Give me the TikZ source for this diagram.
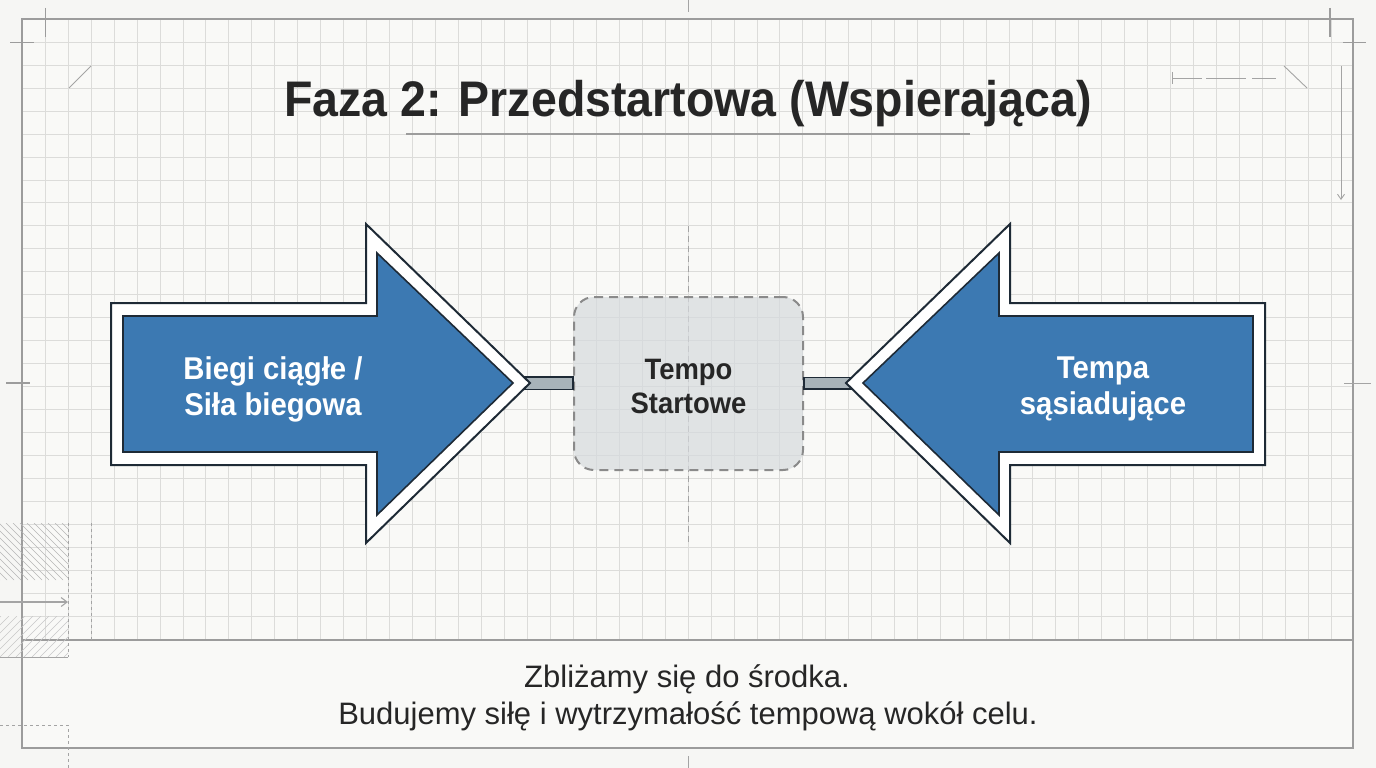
\documentclass[tikz,border=0pt]{standalone}
\usepackage{fontspec}
\setmainfont{Liberation Sans}
\newfontfamily\bfs[FakeStretch=0.93]{Liberation Sans Bold}
\usetikzlibrary{arrows.meta}
\definecolor{bgc}{HTML}{F6F6F4}
\definecolor{paper}{HTML}{F9F9F7}
\definecolor{gridc}{HTML}{DCDCDA}
\definecolor{framec}{HTML}{9C9C9C}
\definecolor{txt}{HTML}{262626}
\definecolor{blueA}{HTML}{3C79B2}
\definecolor{darkline}{HTML}{1E2A36}
\definecolor{barc}{HTML}{A8B3B9}
\definecolor{boxfill}{HTML}{D6DADD}
\definecolor{boxdash}{HTML}{8A8A8A}
\definecolor{decoc}{HTML}{A4A4A4}
\tikzset{
  gridline/.style={draw=gridc, line width=1pt},
  framec line/.style={draw=framec, line width=1.4pt},
  deco/.style={draw=decoc, line width=0.9pt},
  hatch/.style={draw=decoc!80, line width=0.6pt},
  arrowout/.style={fill=white, draw=darkline, line width=2pt, line join=miter},
  arrowin/.style={fill=blueA, draw=darkline, line width=1.6pt, line join=miter},
  bar/.style={fill=barc, draw=darkline, line width=1.6pt},
  startbox/.style={draw=boxdash, dash pattern=on 9pt off 6pt, line width=2pt, fill=boxfill, fill opacity=0.7, text opacity=1, rounded corners=20pt, minimum width=229pt, minimum height=173pt, align=center, text=txt, font=\bfs\fontsize{29.5}{34}\selectfont},
  lbl/.style={align=center, text=white, font=\bfs\fontsize{31.5}{36}\selectfont},
  titlefont/.style={text=txt, font=\bfs\fontsize{50}{60}\selectfont, inner sep=0pt},
  subfont/.style={text=txt, font=\fontsize{31}{37}\selectfont, inner sep=0pt},
}
\begin{document}
\begin{tikzpicture}[x=1pt,y=-1pt]
\useasboundingbox (0,0) rectangle (1376,768);
\fill[bgc] (0,0) rectangle (1376,768);
\fill[paper] (22,19) rectangle (1353,748);
% grid
\foreach \i in {0,...,57} \draw[gridline] ({22.3+22.96*\i},19.3) -- ({22.3+22.96*\i},639.5);
\foreach \j in {0,...,27} \draw[gridline] (22.3,{19.3+22.96*\j}) -- (1353,{19.3+22.96*\j});
% frame
\draw[framec line] (22,19) rectangle (1353,748);
\draw[framec line] (22,640) -- (1353,640);
% crop marks
\draw[deco, line width=1.1pt, draw=framec] (45.7,8) -- (45.7,37);
\draw[deco, line width=1.1pt, draw=framec] (10,42.7) -- (34,42.7);
\draw[deco, line width=1.1pt, draw=framec] (1330,8) -- (1330,37);
\draw[deco, line width=1.1pt, draw=framec] (1343,42.7) -- (1366,42.7);
\draw[deco, line width=1.1pt, draw=framec] (6,383) -- (30,383);
\draw[deco] (1344,383) -- (1371,383);
\draw[deco] (688,0) -- (688,12);
\draw[deco] (688,756) -- (688,768);
% small decorations top
\draw[deco] (69,88) -- (91,66);
\draw[deco] (1284,66) -- (1307,88);
\draw[deco, dash pattern=on 30pt off 4pt on 40pt off 6pt] (1172,78) -- (1276,78);
\draw[deco] (1172,72) -- (1172,84);
\draw[deco, -{Straight Barb[length=5pt,width=7pt]}] (1341,66) -- (1341,200);
% bottom-left decorations
\begin{scope}
  \clip (0,523) rectangle (68,580);
  \foreach \k in {-64,-57,...,80} \draw[hatch] (\k,523) -- ({\k+57},580);
\end{scope}
\begin{scope}
  \clip (0,616) rectangle (68,657);
  \foreach \k in {-48,-40,...,80} \draw[hatch, draw=decoc!60] (\k,657) -- ({\k+41},616);
\end{scope}
\draw[deco, dashed] (68,523) -- (68,657);
\draw[deco, dashed] (91,523) -- (91,640);
\draw[deco] (0,657) -- (68,657);
\draw[deco, line width=1.1pt, -{Straight Barb[length=6pt,width=9pt]}] (0,602) -- (68,602);
\draw[deco, dashed] (0,725) -- (68,725) -- (68,768);
% center dashed line
\draw[draw=decoc, line width=1pt, dash pattern=on 6pt off 4pt] (688,226) -- (688,545);
% title
\node[titlefont, anchor=base] (title) at (688,116) {Faza 2: Przedstartowa (Wspierająca)};
\draw[draw=framec, line width=1.3pt] (406,134) -- (970,134);
% center box
\node[startbox] (box) at (688.5,383.5) {};
\node[text=txt, align=center, font=\bfs\fontsize{29.5}{34}\selectfont] (boxtext) at (688.5,386) {Tempo\\Startowe};
% arrow tips
\coordinate (ltip) at (525,383);
\coordinate (rtip) at (851,383);
% connector bars
\draw[bar] ([yshift=6pt]ltip) rectangle ([yshift=-6pt]box.west);
\draw[bar] ([yshift=6pt]box.east) rectangle ([yshift=-6pt]rtip);
% left arrow
\draw[arrowout] (111,303) -- (366,303) -- (366,224) -- (530,383) -- (366,543) -- (366,465) -- (111,465) -- cycle;
\draw[arrowin] (123,316) -- (377,316) -- (377,253) -- (513,383) -- (377,515) -- (377,452) -- (123,452) -- cycle;
% right arrow
\draw[arrowout] (1265,303) -- (1010,303) -- (1010,224) -- (846,383) -- (1010,543) -- (1010,465) -- (1265,465) -- cycle;
\draw[arrowin] (1253,316) -- (999,316) -- (999,253) -- (863,383) -- (999,515) -- (999,452) -- (1253,452) -- cycle;
% labels
\node[lbl] (lleft) at (273,389) {Biegi ciągłe /\\Siła biegowa};
\node[lbl] (lright) at (1103,389) {Tempa\\sąsiadujące};
% bottom text
\node[subfont, anchor=base] (sub1) at (687,687) {Zbliżamy się do środka.};
\node[subfont, anchor=base] (sub2) at (688,724) {Budujemy siłę i wytrzymałość tempową wokół celu.};
\end{tikzpicture}
\end{document}
